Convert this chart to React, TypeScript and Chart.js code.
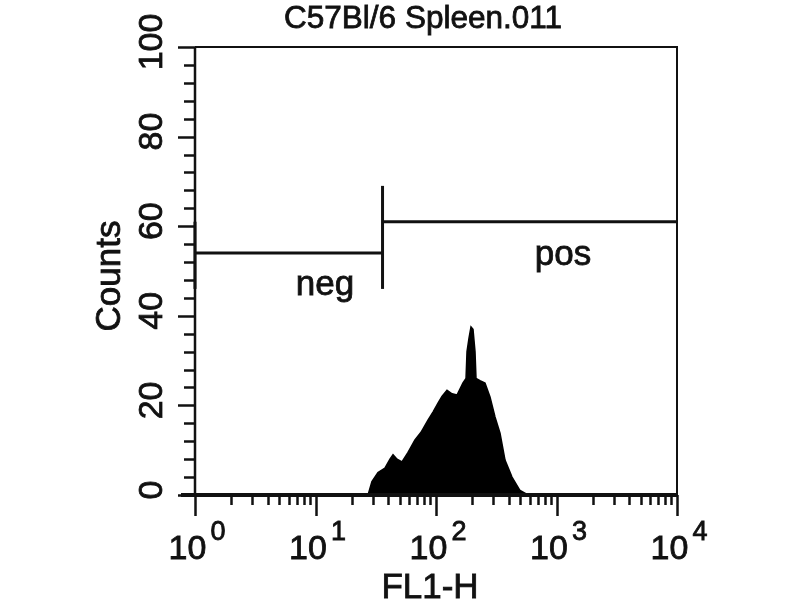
import React, { useEffect, useRef } from "react";
import { Chart, registerables } from "chart.js";

Chart.register(...registerables);

// ---- Data ----
const titleText = "C57Bl/6 Spleen.011";
const xAxisTitle = "FL1-H";
const yAxisTitle = "Counts";

// Histogram (FL1-H channel value, counts)
const histX = [
  27.3, 29.4, 33.0, 37.7, 41.5, 44.0, 47.5, 52.2, 58.6, 66.9, 75.1, 85.8, 94.4,
  103.9, 112.1, 123.4, 135.8, 149.4, 167.5, 177.5, 180.9, 187.9, 195.2, 202.8,
  210.7, 214.8, 231.8, 255.0, 280.6, 308.8, 339.8, 373.8, 427.2, 498.0, 580.0,
];
const histY = [
  0, 3, 5, 6, 8, 9, 8, 7.4, 9.5, 12.3, 14, 16.7, 18.5, 20.5, 22, 23.4, 22.6,
  22.3, 25, 26, 32, 35, 37.5, 37, 32, 26, 25.5, 25, 21.9, 17.4, 13.8, 7.8, 4, 1, 0,
];

// Gates
const gateSplit = 36;
const negLevel = 54;
const posLevel = 61;
const negLabel = "neg";
const posLabel = "pos";
const negLabelPos = { x: 12.0, y: 44.6 };
const posLabelPos = { x: 1132, y: 51.3 };

// Axes
const xMin = 1;
const xMax = 10000;
const xDecadeExps = [0, 1, 2, 3, 4];
const supDigits = ["0", "1", "2", "3", "4"];
const yMin = 0;
const yMax = 100;
const yMajorTicks = [0, 20, 40, 60, 80, 100];
const yMinorStep = 4;

const FONT = "'Liberation Sans', Arial, Helvetica, sans-serif";

function heavyText(ctx: CanvasRenderingContext2D, t: string, x: number, y: number) {
  ctx.fillText(t, x, y);
  ctx.strokeText(t, x, y);
}

const decorPlugin = {
  id: "decor",
  afterDraw(chart: any) {
    const { ctx, chartArea, scales } = chart;
    const xs = scales.x;
    const ys = scales.y;
    const L = chartArea.left;
    const R = chartArea.right;
    const T = chartArea.top;
    const B = chartArea.bottom;
    ctx.save();
    ctx.strokeStyle = "#111";
    ctx.fillStyle = "#111";
    ctx.lineCap = "butt";

    // frame top & right
    ctx.lineWidth = 2;
    ctx.beginPath();
    ctx.moveTo(L, T);
    ctx.lineTo(R, T);
    ctx.lineTo(R, B);
    ctx.stroke();

    // left axis
    ctx.lineWidth = 2.5;
    ctx.beginPath();
    ctx.moveTo(L, T);
    ctx.lineTo(L, B + 2);
    ctx.stroke();

    // bottom axis (thick)
    ctx.lineWidth = 4;
    ctx.beginPath();
    ctx.moveTo(L - 14, B);
    ctx.lineTo(R, B);
    ctx.stroke();

    // y ticks
    ctx.lineWidth = 2.5;
    for (let v = yMin; v <= yMax + 1e-9; v += yMinorStep) {
      const py = Math.round(ys.getPixelForValue(v)) + 0.5;
      const major = yMajorTicks.includes(v);
      ctx.beginPath();
      ctx.moveTo(L, py);
      ctx.lineTo(L - (major ? 17 : 11), py);
      ctx.stroke();
    }

    ctx.lineWidth = 0.8;
    // y tick labels rotated
    ctx.font = `34px ${FONT}`;
    ctx.textAlign = "center";
    ctx.textBaseline = "alphabetic";
    yMajorTicks.forEach((v) => {
      const py = ys.getPixelForValue(v) - 5;
      ctx.save();
      ctx.translate(162, py);
      ctx.rotate(-Math.PI / 2);
      heavyText(ctx, String(v), 0, 0);
      ctx.restore();
    });

    // x ticks
    ctx.lineWidth = 2.5;
    xDecadeExps.forEach((e, i) => {
      const base = Math.pow(10, e);
      const px = Math.round(xs.getPixelForValue(base)) + 0.5;
      ctx.beginPath();
      ctx.moveTo(px, B);
      ctx.lineTo(px, B + 21);
      ctx.stroke();
      if (i < xDecadeExps.length - 1) {
        for (let m = 2; m <= 9; m++) {
          const mx = Math.round(xs.getPixelForValue(m * base)) + 0.5;
          ctx.beginPath();
          ctx.moveTo(mx, B);
          ctx.lineTo(mx, B + 10);
          ctx.stroke();
        }
      }
    });

    // x tick labels 10^n
    ctx.lineWidth = 0.8;
    xDecadeExps.forEach((e, i) => {
      const px = xs.getPixelForValue(Math.pow(10, e));
      ctx.font = `34px ${FONT}`;
      const baseW = ctx.measureText("10").width;
      ctx.font = `27px ${FONT}`;
      const supW = ctx.measureText(supDigits[i]).width;
      const gap = 4;
      const total = baseW + gap + supW;
      const start = px + 2 - total / 2;
      ctx.textAlign = "left";
      ctx.textBaseline = "alphabetic";
      ctx.font = `34px ${FONT}`;
      heavyText(ctx, "10", start, 559);
      ctx.font = `27px ${FONT}`;
      heavyText(ctx, supDigits[i], start + baseW + gap, 540);
    });

    // axis titles
    ctx.textAlign = "center";
    ctx.textBaseline = "alphabetic";
    ctx.font = `35px ${FONT}`;
    heavyText(ctx, xAxisTitle, 430, 598);
    ctx.save();
    ctx.translate(120, 276);
    ctx.rotate(-Math.PI / 2);
    heavyText(ctx, yAxisTitle, 0, 0);
    ctx.restore();

    // title
    ctx.font = `31.5px ${FONT}`;
    heavyText(ctx, titleText, 423, 28);

    // gate labels
    ctx.font = `35px ${FONT}`;
    heavyText(ctx, negLabel, xs.getPixelForValue(negLabelPos.x), ys.getPixelForValue(negLabelPos.y));
    heavyText(ctx, posLabel, xs.getPixelForValue(posLabelPos.x), ys.getPixelForValue(posLabelPos.y));

    ctx.restore();
  },
};

export default function App() {
  const ref = useRef<HTMLCanvasElement | null>(null);

  useEffect(() => {
    if (!ref.current) return;
    const lineDs = (data: { x: number; y: number }[]) => ({
      type: "line" as const,
      data,
      borderColor: "#111",
      borderWidth: 3,
      pointRadius: 0,
      fill: false,
      clip: false as any,
    });
    const chart = new Chart(ref.current, {
      type: "line",
      data: {
        datasets: [
          {
            data: histX.map((x, i) => ({ x, y: histY[i] })),
            borderColor: "#000",
            backgroundColor: "#000",
            borderWidth: 1.5,
            pointRadius: 0,
            fill: "origin",
            tension: 0,
          },
          lineDs([
            { x: xMin, y: negLevel },
            { x: gateSplit, y: negLevel },
          ]),
          lineDs([
            { x: xMin, y: 46 },
            { x: xMin, y: 61 },
          ]),
          lineDs([
            { x: gateSplit, y: 46 },
            { x: gateSplit, y: 69 },
          ]),
          lineDs([
            { x: gateSplit, y: posLevel },
            { x: xMax, y: posLevel },
          ]),
        ] as any,
      },
      options: {
        animation: false,
        responsive: false,
        maintainAspectRatio: false,
        layout: { padding: { left: 195, right: 123, top: 47, bottom: 105 } },
        plugins: {
          legend: { display: false },
          tooltip: { enabled: false },
          title: { display: false },
        },
        scales: {
          x: { type: "logarithmic", min: xMin, max: xMax, display: false },
          y: { type: "linear", min: yMin, max: yMax, display: false },
        },
      },
      plugins: [decorPlugin],
    });
    return () => chart.destroy();
  }, []);

  return (
    <div style={{ position: "fixed", left: 0, top: 0, width: 800, height: 600, background: "#fff" }}>
      <canvas ref={ref} width={800} height={600} style={{ width: 800, height: 600 }} />
    </div>
  );
}
